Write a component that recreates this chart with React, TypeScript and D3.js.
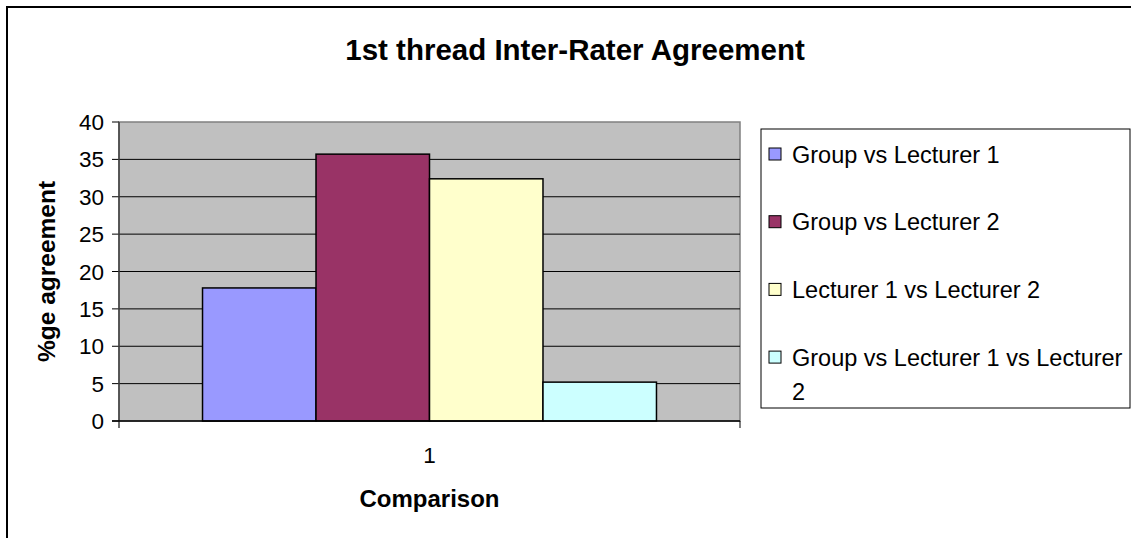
import React from "react";
import * as d3 from "d3";

// chart data
const categories = ["1"];
const seriesNames = [
    "Group vs Lecturer 1",
    "Group vs Lecturer 2",
    "Lecturer 1 vs Lecturer 2",
    "Group vs Lecturer 1 vs Lecturer 2",
];
const seriesValues = [17.8, 35.7, 32.4, 5.2];
const seriesColors = ["#9999FF", "#993366", "#FFFFCC", "#CCFFFF"];
const yTicks = [0, 5, 10, 15, 20, 25, 30, 35, 40];

const width = 1131;
const height = 538;
const plot = {left: 119, right: 740, top: 122, bottom: 421};
const font = "'Liberation Sans', Arial, sans-serif";

export default function App()
{
    const yScale = d3.scaleLinear().domain([0, 40]).range([plot.bottom, plot.top]);
    const x0 = d3
        .scaleBand()
        .domain(categories)
        .range([plot.left, plot.right])
        .paddingInner(0)
        .paddingOuter(0.184);
    const x1 = d3
        .scaleBand()
        .domain(seriesNames)
        .range([0, x0.bandwidth()])
        .padding(0);

    const legend = {x: 761, y: 129, w: 369, h: 279};
    const legendRowY = (i: number) => 154 + i * 67.7;

    return (
        <svg width={width} height={height} style={{position: "absolute", left: 0, top: 0}}>
            <rect x={0} y={0} width={width} height={height} fill="#fff"/>
            {/* outer chart frame, cut off on the right and bottom */}
            <rect x={7} y={7} width={width} height={height} fill="none" stroke="#000" strokeWidth={2}/>

            <text x={575} y={60} textAnchor="middle" fontFamily={font} fontSize={29.5} fontWeight="bold">
                1st thread Inter-Rater Agreement
            </text>

            {/* plot area */}
            <rect x={plot.left} y={plot.top} width={plot.right - plot.left} height={plot.bottom - plot.top}
                  fill="#C0C0C0" stroke="#808080" strokeWidth={1.5}/>
            {yTicks.map((t) => (
                <g key={t}>
                    {t > 0 && t < 40 && (
                        <line x1={plot.left} x2={plot.right} y1={yScale(t)} y2={yScale(t)} stroke="#000" strokeWidth={1}/>
                    )}
                    <line x1={plot.left - 7} x2={plot.left} y1={yScale(t)} y2={yScale(t)} stroke="#000" strokeWidth={1}/>
                    <text x={104} y={yScale(t)} dy="0.36em" textAnchor="end" fontFamily={font} fontSize={22.5}>
                        {t}
                    </text>
                </g>
            ))}

            {categories.map((c) => (
                <g key={c} transform={`translate(${x0(c)},0)`}>
                    {seriesNames.map((s, i) => (
                        <rect key={s} x={x1(s)} y={yScale(seriesValues[i])} width={x1.bandwidth()}
                              height={yScale(0) - yScale(seriesValues[i])}
                              fill={seriesColors[i]} stroke="#000" strokeWidth={1.5}/>
                    ))}
                </g>
            ))}

            {/* axes */}
            <line x1={plot.left} x2={plot.left} y1={plot.top} y2={plot.bottom + 7} stroke="#404040" strokeWidth={1.5}/>
            <line x1={plot.left - 7} x2={plot.right} y1={plot.bottom} y2={plot.bottom} stroke="#000" strokeWidth={1.5}/>
            <line x1={plot.right} x2={plot.right} y1={plot.bottom} y2={plot.bottom + 7} stroke="#000" strokeWidth={1}/>

            {categories.map((c) => (
                <text key={c} x={(x0(c) as number) + x0.bandwidth() / 2} y={463} textAnchor="middle"
                      fontFamily={font} fontSize={22.5}>
                    {c}
                </text>
            ))}
            <text x={(plot.left + plot.right) / 2} y={507} textAnchor="middle" fontFamily={font} fontSize={24}
                  fontWeight="bold">
                Comparison
            </text>
            <text transform={`translate(55,${(plot.top + plot.bottom) / 2}) rotate(-90)`} textAnchor="middle"
                  fontFamily={font} fontSize={24.5} fontWeight="bold">
                %ge agreement
            </text>

            {/* legend */}
            <rect x={legend.x} y={legend.y} width={legend.w} height={legend.h} fill="#fff" stroke="#000" strokeWidth={1}/>
            {seriesNames.map((s, i) => {
                const cy = legendRowY(i);
                const words = s === "Group vs Lecturer 1 vs Lecturer 2"
                    ? ["Group vs Lecturer 1 vs Lecturer", "2"]
                    : [s];
                return (
                    <g key={s}>
                        <rect x={769} y={cy - 6} width={12} height={12} fill={seriesColors[i]} stroke="#000" strokeWidth={1}/>
                        <text x={792} y={cy + 8.5} fontFamily={font} fontSize={23.5}>
                            {words.map((w, j) => (
                                <tspan key={j} x={792} dy={j === 0 ? 0 : 34}>{w}</tspan>
                            ))}
                        </text>
                    </g>
                );
            })}
        </svg>
    );
}
